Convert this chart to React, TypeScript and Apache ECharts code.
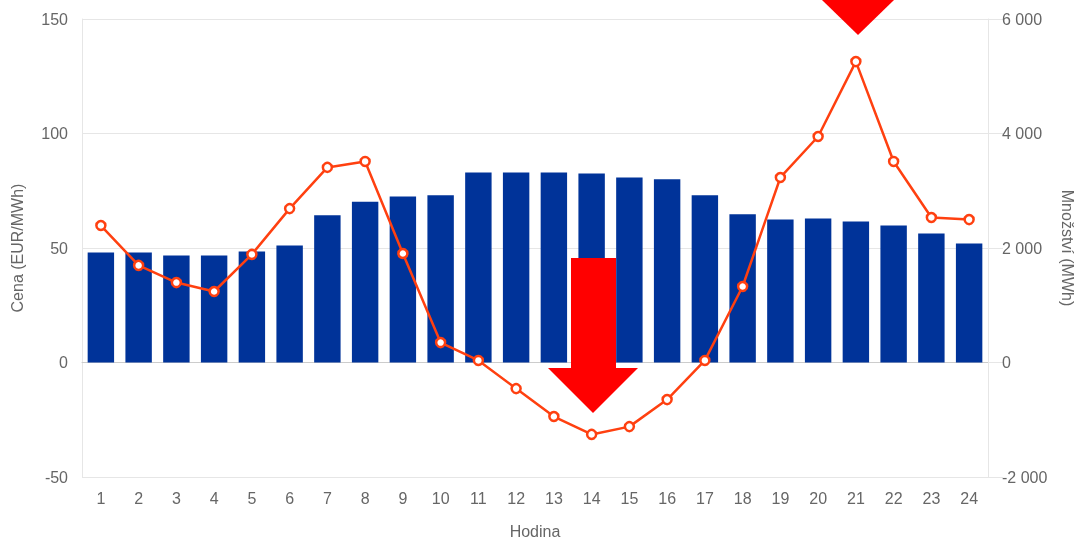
import React, { useEffect, useRef } from "react";
import * as echarts from "echarts";

const hours = ["1","2","3","4","5","6","7","8","9","10","11","12","13","14","15","16","17","18","19","20","21","22","23","24"];
const quantity = [1920, 1920, 1870, 1870, 1940, 2045, 2570, 2810, 2900, 2920, 3320, 3320, 3320, 3300, 3230, 3200, 2920, 2590, 2500, 2515, 2465, 2395, 2255, 2080];
const price = [59.8, 42.4, 34.9, 31.0, 47.2, 67.2, 85.2, 87.8, 47.6, 8.7, 0.9, -11.4, -23.6, -31.4, -28.0, -16.2, 0.9, 33.2, 80.8, 98.7, 131.4, 87.8, 63.3, 62.4];

const fmtSpace = (v: number) => {
  const s = Math.abs(v).toString().replace(/\B(?=(\d{3})+(?!\d))/g, " ");
  return (v < 0 ? "-" : "") + s;
};

export default function App() {
  const ref = useRef<HTMLDivElement>(null);
  useEffect(() => {
    const chart = echarts.init(ref.current!, null, { renderer: "svg" });
    const font = "Liberation Sans, Arial, sans-serif";
    const fs = 16;
    const lineColor = "#ff4010";
    chart.setOption({
      animation: false,
      textStyle: { fontFamily: font },
      grid: { left: 82, right: 88, top: 19, bottom: 63, outerBoundsMode: "none", containLabel: false },
      xAxis: {
        type: "category",
        data: hours,
        name: "Hodina",
        nameLocation: "middle",
        nameGap: 46,
        nameTextStyle: { color: "#666", fontSize: fs, fontFamily: font },
        axisLine: { lineStyle: { color: "#ccc" } },
        axisTick: { show: false },
        axisLabel: { color: "#666", fontSize: fs, margin: 13, fontFamily: font },
      },
      yAxis: [
        {
          type: "value",
          min: -50,
          max: 150,
          interval: 50,
          name: "Cena (EUR/MWh)",
          nameLocation: "middle",
          nameGap: 57,
          nameTextStyle: { color: "#666", fontSize: fs, fontFamily: font },
          axisLine: { show: true, lineStyle: { color: "#e6e6e6" } },
          axisTick: { show: false },
          axisLabel: { color: "#666", fontSize: fs, margin: 14, fontFamily: font },
          splitLine: { lineStyle: { color: "#e6e6e6" } },
        },
        {
          type: "value",
          min: -2000,
          max: 6000,
          interval: 2000,
          name: "Množství (MWh)",
          nameLocation: "middle",
          nameGap: 71,
          nameRotate: -90,
          nameTextStyle: { color: "#666", fontSize: fs, fontFamily: font },
          axisLine: { show: true, lineStyle: { color: "#e6e6e6" } },
          axisTick: { show: true, length: 15, lineStyle: { color: "#e6e6e6" } },
          axisLabel: { color: "#666", fontSize: fs, margin: 14, fontFamily: font, formatter: fmtSpace },
          splitLine: { show: false },
        },
      ],
      series: [
        {
          type: "bar",
          yAxisIndex: 1,
          data: quantity,
          barWidth: "70%",
          itemStyle: { color: "#003399" },
          z: 2,
        },
        {
          type: "line",
          yAxisIndex: 0,
          data: price,
          symbol: "circle",
          symbolSize: 9,
          lineStyle: { color: lineColor, width: 2.5 },
          itemStyle: { color: "#fff", borderColor: lineColor, borderWidth: 2.5 },
          z: 3,
        },
      ],
      graphic: [
        {
          type: "polygon",
          z: 100,
          shape: {
            points: [[571, 258], [616, 258], [616, 368], [638, 368], [593, 413], [548, 368], [571, 368]],
          },
          style: { fill: "#ff0000" },
        },
        {
          type: "polygon",
          z: 100,
          shape: { points: [[822, 0], [894, 0], [858, 35]] },
          style: { fill: "#ff0000" },
        },
      ],
    });
    return () => chart.dispose();
  }, []);
  return <div ref={ref} style={{ position: "fixed", left: 0, top: 0, width: 1076, height: 540 }} />;
}
